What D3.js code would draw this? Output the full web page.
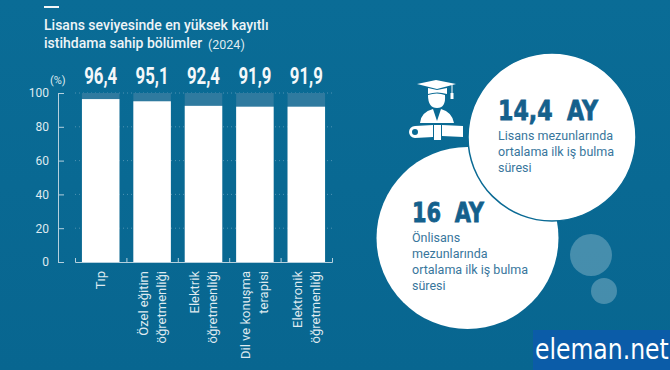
<!DOCTYPE html>
<html>
<head>
<meta charset="utf-8">
<script src="https://cdn.jsdelivr.net/npm/d3@7"></script>
<style>
  html, body { margin: 0; padding: 0; background: #0a6a94; }
  svg { display: block; }
  text { font-family: Roboto, sans-serif; }
</style>
</head>
<body>
<div id="chart"></div>
<script>
const categories = [
    ["Tıp"],
    ["Özel eğitim", "öğretmenliği"],
    ["Elektrik", "öğretmenliği"],
    ["Dil ve konuşma", "terapisi"],
    ["Elektronik", "öğretmenliği"]
];
const values = [96.4, 95.1, 92.4, 91.9, 91.9];
const valueLabels = ["96,4", "95,1", "92,4", "91,9", "91,9"];
const yTicks = [0, 20, 40, 60, 80, 100];
const titleLines = ["Lisans seviyesinde en yüksek kayıtlı", "istihdama sahip bölümler"];
const titleYear = "(2024)";

const width = 670, height = 370;
const textColor = "#dfeaf0";
const bgColor = "#0a6a94";

const svg = d3.select("#chart").append("svg")
    .attr("width", width)
    .attr("height", height)
    .attr("viewBox", `0 0 ${width} ${height}`);

const defs = svg.append("defs");
const bg = defs.append("linearGradient").attr("id", "bg")
    .attr("x1", 0).attr("x2", 0).attr("y1", 0).attr("y2", 1);
bg.append("stop").attr("offset", "0%").attr("stop-color", "#0a6c96");
bg.append("stop").attr("offset", "100%").attr("stop-color", "#086690");

svg.append("rect")
    .attr("width", width)
    .attr("height", height)
    .attr("fill", "url(#bg)");

// title
svg.append("rect")
    .attr("x", 44).attr("y", 6)
    .attr("width", 15).attr("height", 2)
    .attr("fill", "#f2f6f8");

svg.selectAll(".title")
    .data(titleLines)
    .enter()
    .append("text")
    .classed("title", true)
    .attr("x", 44)
    .attr("y", (d, i) => 30 + i * 18)
    .attr("fill", "#eef4f7")
    .style("font-size", "14px")
    .style("font-weight", 500)
    .text(d => d);

svg.append("text")
    .attr("x", 208).attr("y", 49)
    .attr("fill", textColor)
    .style("font-size", "12.5px")
    .text(titleYear);

// scales
const x = d3.scaleBand()
    .domain(d3.range(categories.length))
    .range([75, 332])
    .paddingInner(0.27)
    .paddingOuter(0.135);

const y = d3.scaleLinear()
    .domain([0, 100])
    .range([262, 93]);

// dotted grid
svg.append("g")
    .selectAll("line")
    .data(yTicks.slice(1))
    .enter()
    .append("line")
    .attr("x1", 75).attr("x2", 332)
    .attr("y1", d => y(d)).attr("y2", d => y(d))
    .attr("stroke", "#4f93b3")
    .attr("stroke-width", 1)
    .attr("stroke-dasharray", "1,3");

// bars
svg.append("g")
    .selectAll("rect")
    .data(values)
    .enter()
    .append("rect")
    .attr("x", (d, i) => x(i))
    .attr("y", y(100))
    .attr("width", x.bandwidth())
    .attr("height", y(0) - y(100))
    .attr("fill", "#2f7a9f");

svg.append("g")
    .selectAll("rect")
    .data(values)
    .enter()
    .append("rect")
    .attr("x", (d, i) => x(i))
    .attr("y", d => y(d))
    .attr("width", x.bandwidth())
    .attr("height", d => y(0) - y(d))
    .attr("fill", "#ffffff");

svg.append("g")
    .selectAll("text")
    .data(valueLabels)
    .enter()
    .append("text")
    .attr("x", (d, i) => x(i) + x.bandwidth() / 2)
    .attr("y", 84)
    .attr("text-anchor", "middle")
    .attr("textLength", 33)
    .attr("lengthAdjust", "spacingAndGlyphs")
    .attr("fill", "#f4f8fa")
    .style("font-size", "23px")
    .style("font-weight", 700)
    .text(d => d);

// y axis
const yAxis = svg.append("g")
    .attr("transform", "translate(58,0)")
    .call(d3.axisLeft(y).tickValues(yTicks).tickSizeInner(-6).tickSizeOuter(0).tickPadding(9));
yAxis.selectAll("path, line").attr("stroke", "#b5d0de");
yAxis.selectAll("text")
    .attr("fill", textColor)
    .style("font-family", "Roboto, sans-serif")
    .style("font-size", "12px");

svg.append("text")
    .attr("x", 50).attr("y", 84)
    .attr("fill", textColor)
    .style("font-size", "11px")
    .text("(%)");

// x axis, ticks sit between the bars
const xEdges = d3.scaleLinear().domain([0, categories.length]).range([75, 332]);
const xAxis = svg.append("g")
    .attr("transform", `translate(0,${y(0)})`)
    .call(d3.axisBottom(xEdges).tickValues(d3.range(categories.length + 1)).tickSize(-4).tickFormat(""));
xAxis.selectAll("path, line").attr("stroke", "#b5d0de");

// category labels
const catGroups = svg.append("g")
    .selectAll("g")
    .data(categories)
    .enter()
    .append("g")
    .attr("transform", (d, i) => `translate(${x(i) + x.bandwidth() / 2},271) rotate(-90)`);

catGroups.selectAll("text")
    .data(d => d.map((line, i) => ({ line, i, n: d.length })))
    .enter()
    .append("text")
    .attr("text-anchor", "end")
    .attr("y", d => (d.i - (d.n - 1) / 2) * 18 + 4.5)
    .attr("fill", textColor)
    .style("font-size", "13px")
    .text(d => d.line);

// circles
svg.append("circle")
    .attr("cx", 467.5).attr("cy", 238).attr("r", 91)
    .attr("fill", "#ffffff");
svg.append("circle")
    .attr("cx", 552).attr("cy", 137).attr("r", 84)
    .attr("fill", "#ffffff")
    .attr("stroke", bgColor)
    .attr("stroke-width", 1.5);
svg.append("circle")
    .attr("cx", 591).attr("cy", 255).attr("r", 21)
    .attr("fill", "#ffffff").attr("opacity", 0.25);
svg.append("circle")
    .attr("cx", 604).attr("cy", 291).attr("r", 13)
    .attr("fill", "#ffffff").attr("opacity", 0.25);

// callouts
function callout(xPos, yPos, big, bigWidth, lines){
    svg.append("text")
        .attr("x", xPos).attr("y", yPos)
        .attr("textLength", bigWidth)
        .attr("lengthAdjust", "spacingAndGlyphs")
        .attr("fill", "#14608c")
        .attr("stroke", "#14608c")
        .attr("stroke-width", 0.8)
        .style("font-family", "'DejaVu Sans', sans-serif")
        .style("font-size", "27px")
        .style("font-weight", 700)
        .style("word-spacing", "8px")
        .text(big);
    lines.forEach((line, i) => {
        svg.append("text")
            .attr("x", xPos).attr("y", yPos + 20 + i * 16)
            .attr("fill", "#38769c")
            .style("font-size", "12.5px")
            .text(line);
    });
}
callout(498, 120, "14,4 AY", 100, ["Lisans mezunlarında", "ortalama ilk iş bulma", "süresi"]);
callout(412, 222, "16 AY", 72, ["Önlisans", "mezunlarında", "ortalama ilk iş bulma", "süresi"]);

// graduate icon
const icon = svg.append("g").attr("fill", "#ffffff");
icon.append("path").attr("d", "M417,84 L436,80 L456,84 L437,89 Z");
icon.append("path").attr("d", "M428,88 L437,90 L447,88 L447,94 Q437,91 428,94 Z");
icon.append("path").attr("d", "M428,95 Q437,92 445,95 Q446,108 437,108 Q428,108 428,95 Z");
icon.append("rect").attr("x", 451.5).attr("y", 85).attr("width", 1).attr("height", 9);
icon.append("rect").attr("x", 450.5).attr("y", 93).attr("width", 3).attr("height", 6);
icon.append("path").attr("d", "M420,123 Q421,112 433,109 L437,121 L441,109 Q452,112 454,123 Z");
icon.append("path").attr("fill-rule", "evenodd")
    .attr("d", "M415,126 L433,125 L433,137 L415,138 A6,6 0 0 1 415,126 Z M415,129 A3,3 0 0 0 415,135 A3,3 0 0 0 415,129 Z");
icon.append("path").attr("d", "M442,125 L463,126 L463,137 L442,136 Z");
icon.append("rect").attr("x", 434).attr("y", 125).attr("width", 7).attr("height", 15);

// logo
svg.append("rect")
    .attr("x", 533).attr("y", 330)
    .attr("width", 137).attr("height", 40)
    .attr("fill", "#0b5ca8");
svg.append("text")
    .attr("transform", "translate(535,359) scale(0.84,1)")
    .attr("fill", "#ffffff")
    .style("font-family", "'DejaVu Sans', sans-serif")
    .style("font-size", "28px")
    .text("eleman.net");
</script>
</body>
</html>
